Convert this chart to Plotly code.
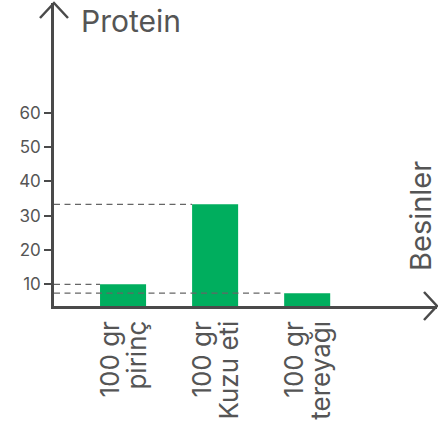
import plotly.graph_objects as go

categories = ["100 gr<br>pirinç", "100 gr<br>Kuzu eti", "100 gr<br>tereyağı"]
protein = [10.0, 33.3, 7.4]
y_ticks = [10, 20, 30, 40, 50, 60]

W, H = 438, 439
L, R, T, B = 54, 1, 3, 133
pw, ph = W - L - R, H - T - B

x_range = [-0.75, 3.41]
y_range = [3.67, 92.0]
bar_w = 0.5

axis_col = "#4a4a4a"
text_col = "#555555"
green = "#00AE5E"
font_fam = "Inter, Open Sans, sans-serif"

def px2paper(px, py):
    return (px - L) / pw, (H - B - py) / ph

fig = go.Figure()
fig.add_trace(go.Bar(
    x=list(range(len(categories))), y=protein, width=bar_w,
    marker=dict(color=green, line=dict(width=0)),
    hoverinfo="skip", base=0,
))

shapes = []
for i, v in enumerate(protein):
    shapes.append(dict(
        type="line", xref="x", yref="y",
        x0=x_range[0], x1=i - bar_w / 2, y0=v, y1=v,
        line=dict(color="#666666", width=1.2, dash="6px,4.5px"),
        layer="above",
    ))

ax0, ay0 = px2paper(40, 18)
ax1, ay1 = px2paper(54, 3)
ax2, ay2 = px2paper(68, 18)
shapes.append(dict(type="path", xref="paper", yref="paper",
                   path=f"M{ax0},{ay0} L{ax1},{ay1} L{ax2},{ay2}",
                   line=dict(color=axis_col, width=2.5)))
bx0, by0 = px2paper(424, 292)
bx1, by1 = px2paper(437, 306)
bx2, by2 = px2paper(424, 320)
shapes.append(dict(type="path", xref="paper", yref="paper",
                   path=f"M{bx0},{by0} L{bx1},{by1} L{bx2},{by2}",
                   line=dict(color=axis_col, width=2.5)))

px_, py_ = px2paper(79, 21)
bx_, by_ = px2paper(420, 216)
annotations = [
    dict(text="Protein", xref="paper", yref="paper", x=px_, y=py_,
         xanchor="left", yanchor="middle", showarrow=False,
         font=dict(family=font_fam, size=30, color=text_col)),
    dict(text="Besinler", xref="paper", yref="paper", x=bx_, y=by_,
         xanchor="center", yanchor="middle", textangle=-90, showarrow=False,
         font=dict(family=font_fam, size=29, color=text_col)),
]

# category labels: each line as its own rotated text, tight line spacing
line_offsets = [-14, 13]
for i, cat in enumerate(categories):
    for j, part in enumerate(cat.split("<br>")):
        annotations.append(dict(
            text=part, xref="x", yref="paper", x=i, y=0,
            xanchor="center", yanchor="top", textangle=-90,
            xshift=line_offsets[j], yshift=-13, showarrow=False,
            font=dict(family=font_fam, size=26, color=text_col),
        ))

fig.update_layout(
    width=W, height=H,
    margin=dict(l=L, r=R, t=T, b=B, autoexpand=False),
    paper_bgcolor="white", plot_bgcolor="white",
    showlegend=False,
    shapes=shapes, annotations=annotations,
    xaxis=dict(
        range=x_range, tickmode="array",
        tickvals=list(range(len(categories))), showticklabels=False,
        showgrid=False, zeroline=False,
        showline=True, linecolor=axis_col, linewidth=2.5, ticks="",
    ),
    yaxis=dict(
        range=y_range, tickmode="array", tickvals=y_ticks,
        showgrid=False, zeroline=False,
        showline=True, linecolor=axis_col, linewidth=2.5,
        ticks="outside", ticklen=7, tickwidth=2, tickcolor=axis_col,
        tickfont=dict(family=font_fam, size=17, color=text_col),
    ),
)

fig.write_html("out.html", config={"displayModeBar": False},
               post_script="document.body.style.margin='0';document.body.style.overflow='hidden';")
